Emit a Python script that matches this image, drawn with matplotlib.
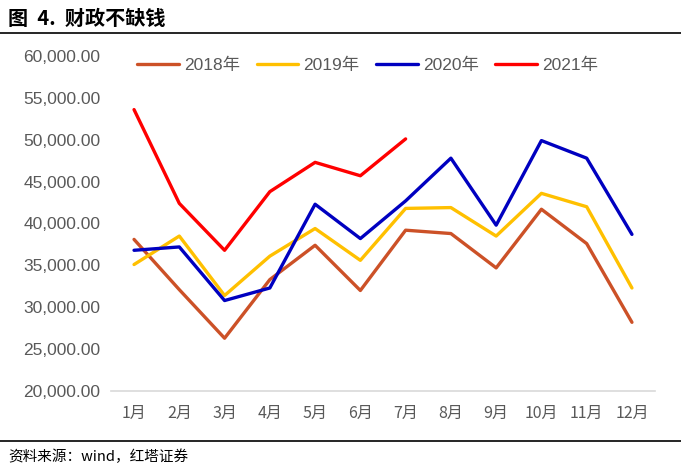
import matplotlib
matplotlib.use("Agg")
import matplotlib.pyplot as plt
from matplotlib.ticker import FuncFormatter

plt.rcParams['font.family'] = ['Liberation Sans', 'Noto Sans CJK SC', 'DejaVu Sans']

months = ["1月", "2月", "3月", "4月", "5月", "6月", "7月", "8月", "9月", "10月", "11月", "12月"]
y2018 = [38100, 32100, 26300, 33300, 37400, 32000, 39200, 38800, 34700, 41700, 37600, 28200]
y2019 = [35100, 38500, 31400, 36100, 39400, 35600, 41800, 41900, 38500, 43600, 42000, 32300]
y2020 = [36800, 37200, 30800, 32300, 42300, 38200, 42700, 47800, 39800, 49900, 47800, 38700]
y2021 = [53600, 42400, 36800, 43800, 47300, 45700, 50100]

series = [
    ("2018年", y2018, "#CC5127"),
    ("2019年", y2019, "#FFC000"),
    ("2020年", y2020, "#0000C0"),
    ("2021年", y2021, "#FF0000"),
]

fig = plt.figure(figsize=(6.81, 4.73), dpi=100)
ax = fig.add_axes([0.1636, 0.1734, 0.7976, 0.7082])

x = list(range(len(months)))
for name, vals, col in series:
    ax.plot(x[:len(vals)], vals, color=col, lw=2.4, label=name, solid_capstyle='round')

ax.set_xlim(-0.5, 11.5)
ax.set_ylim(20000, 60000)
ax.set_yticks(range(20000, 60001, 5000))
ax.yaxis.set_major_formatter(FuncFormatter(lambda v, p: "{:,.2f}".format(v)))
ax.set_xticks(x)
ax.set_xticklabels(months, fontsize=11.5, color="#595959", family=['Noto Sans CJK SC'])
ax.tick_params(axis='y', labelsize=12.5, labelcolor="#595959", length=0, pad=8)
ax.tick_params(axis='x', length=0, pad=10)
for s in ['top', 'right', 'left']:
    ax.spines[s].set_visible(False)
ax.spines['bottom'].set_color("#D9D9D9")
ax.spines['bottom'].set_linewidth(1.2)

leg = ax.legend(loc='center', bbox_to_anchor=(0.472, 0.973), ncol=4, frameon=False,
                handlelength=2.4, columnspacing=0.95, handletextpad=0.3,
                prop={'size': 12.5})
for t in leg.get_texts():
    t.set_color("#595959")

# title, rules and source
fig.text(0.012, 0.960, "图  4.  财政不缺钱", fontsize=14.5, fontweight='bold',
         family=['Noto Sans CJK SC'], va='center', ha='left')
fig.add_artist(plt.Line2D([0, 1], [0.930, 0.930], color='black', lw=1.2))
fig.add_artist(plt.Line2D([0, 1], [0.068, 0.068], color='black', lw=1.2))
fig.text(0.012, 0.034, "资料来源：wind，红塔证券", fontsize=10.5,
         family=['Noto Sans CJK SC'], va='center', ha='left')

fig.savefig("out.png", dpi=100)
